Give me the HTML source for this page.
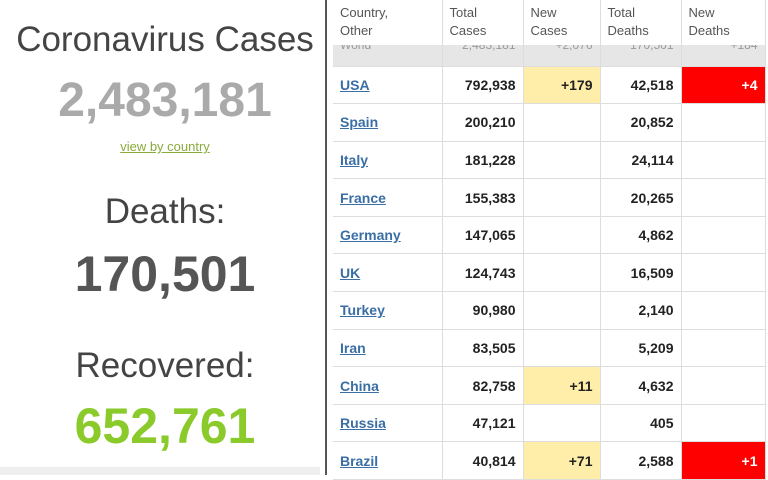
<!DOCTYPE html><html><head><style>
body{margin:0;width:768px;height:475px;overflow:hidden;background:#fff;font-family:"Liberation Sans",sans-serif;position:relative}
.c{position:absolute;left:0;width:330px;text-align:center;white-space:nowrap}
.vl{position:absolute;left:325px;top:0;width:2px;height:475px;background:#555}
table{position:absolute;left:333px;top:0;border-collapse:collapse;table-layout:fixed;font-size:14px;color:#222}
td{border-right:1px solid #ddd;border-bottom:1px solid #ddd;padding:0 7px;text-align:right;font-weight:bold;height:37.6px;box-sizing:border-box}
td:first-child{text-align:left}
td a{color:#3a6ea5;text-decoration:underline}
th{font-weight:normal;color:#555;text-align:left;font-size:13px;padding:4px 7px;vertical-align:top;line-height:18px;border-right:1px solid #ddd;height:45px;box-sizing:border-box}
.y{background:#ffeeaa}.r{background:#f00;color:#fff}
.w td{background:#e6e6e6;height:21px;color:#999;font-weight:normal;font-size:12px;overflow:hidden;vertical-align:top;line-height:0px;padding-top:0}
</style></head><body>
<div class="c" style="top:20px;font-size:35px;color:#444">Coronavirus Cases</div>
<div class="c" style="top:73px;font-size:48px;font-weight:bold;color:#aaa">2,483,181</div>
<div class="c" style="top:139px;font-size:13px;color:#8aaa3a;text-decoration:underline">view by country</div>
<div class="c" style="top:192px;font-size:35px;color:#444">Deaths:</div>
<div class="c" style="top:245px;font-size:50px;font-weight:bold;color:#555">170,501</div>
<div class="c" style="top:346px;font-size:35px;color:#444">Recovered:</div>
<div class="c" style="top:397px;font-size:50px;font-weight:bold;color:#8aca2b">652,761</div>
<div style="position:absolute;left:0;top:467px;width:320px;height:8px;background:#eee"></div>
<div class="vl"></div>
<table>
<colgroup><col style="width:109px"><col style="width:81px"><col style="width:77px"><col style="width:81px"><col style="width:84px"></colgroup>
<tr><th>Country,<br>Other</th><th>Total<br>Cases</th><th>New<br>Cases</th><th>Total<br>Deaths</th><th>New<br>Deaths</th></tr>
<tr class="w"><td>World</td><td>2,483,181</td><td>+2,076</td><td>170,501</td><td>+184</td></tr>
<tr><td><a>USA</a></td><td>792,938</td><td class="y">+179</td><td>42,518</td><td class="r">+4</td></tr>
<tr><td><a>Spain</a></td><td>200,210</td><td></td><td>20,852</td><td></td></tr>
<tr><td><a>Italy</a></td><td>181,228</td><td></td><td>24,114</td><td></td></tr>
<tr><td><a>France</a></td><td>155,383</td><td></td><td>20,265</td><td></td></tr>
<tr><td><a>Germany</a></td><td>147,065</td><td></td><td>4,862</td><td></td></tr>
<tr><td><a>UK</a></td><td>124,743</td><td></td><td>16,509</td><td></td></tr>
<tr><td><a>Turkey</a></td><td>90,980</td><td></td><td>2,140</td><td></td></tr>
<tr><td><a>Iran</a></td><td>83,505</td><td></td><td>5,209</td><td></td></tr>
<tr><td><a>China</a></td><td>82,758</td><td class="y">+11</td><td>4,632</td><td></td></tr>
<tr><td><a>Russia</a></td><td>47,121</td><td></td><td>405</td><td></td></tr>
<tr><td><a>Brazil</a></td><td>40,814</td><td class="y">+71</td><td>2,588</td><td class="r">+1</td></tr>
</table>
</body></html>
